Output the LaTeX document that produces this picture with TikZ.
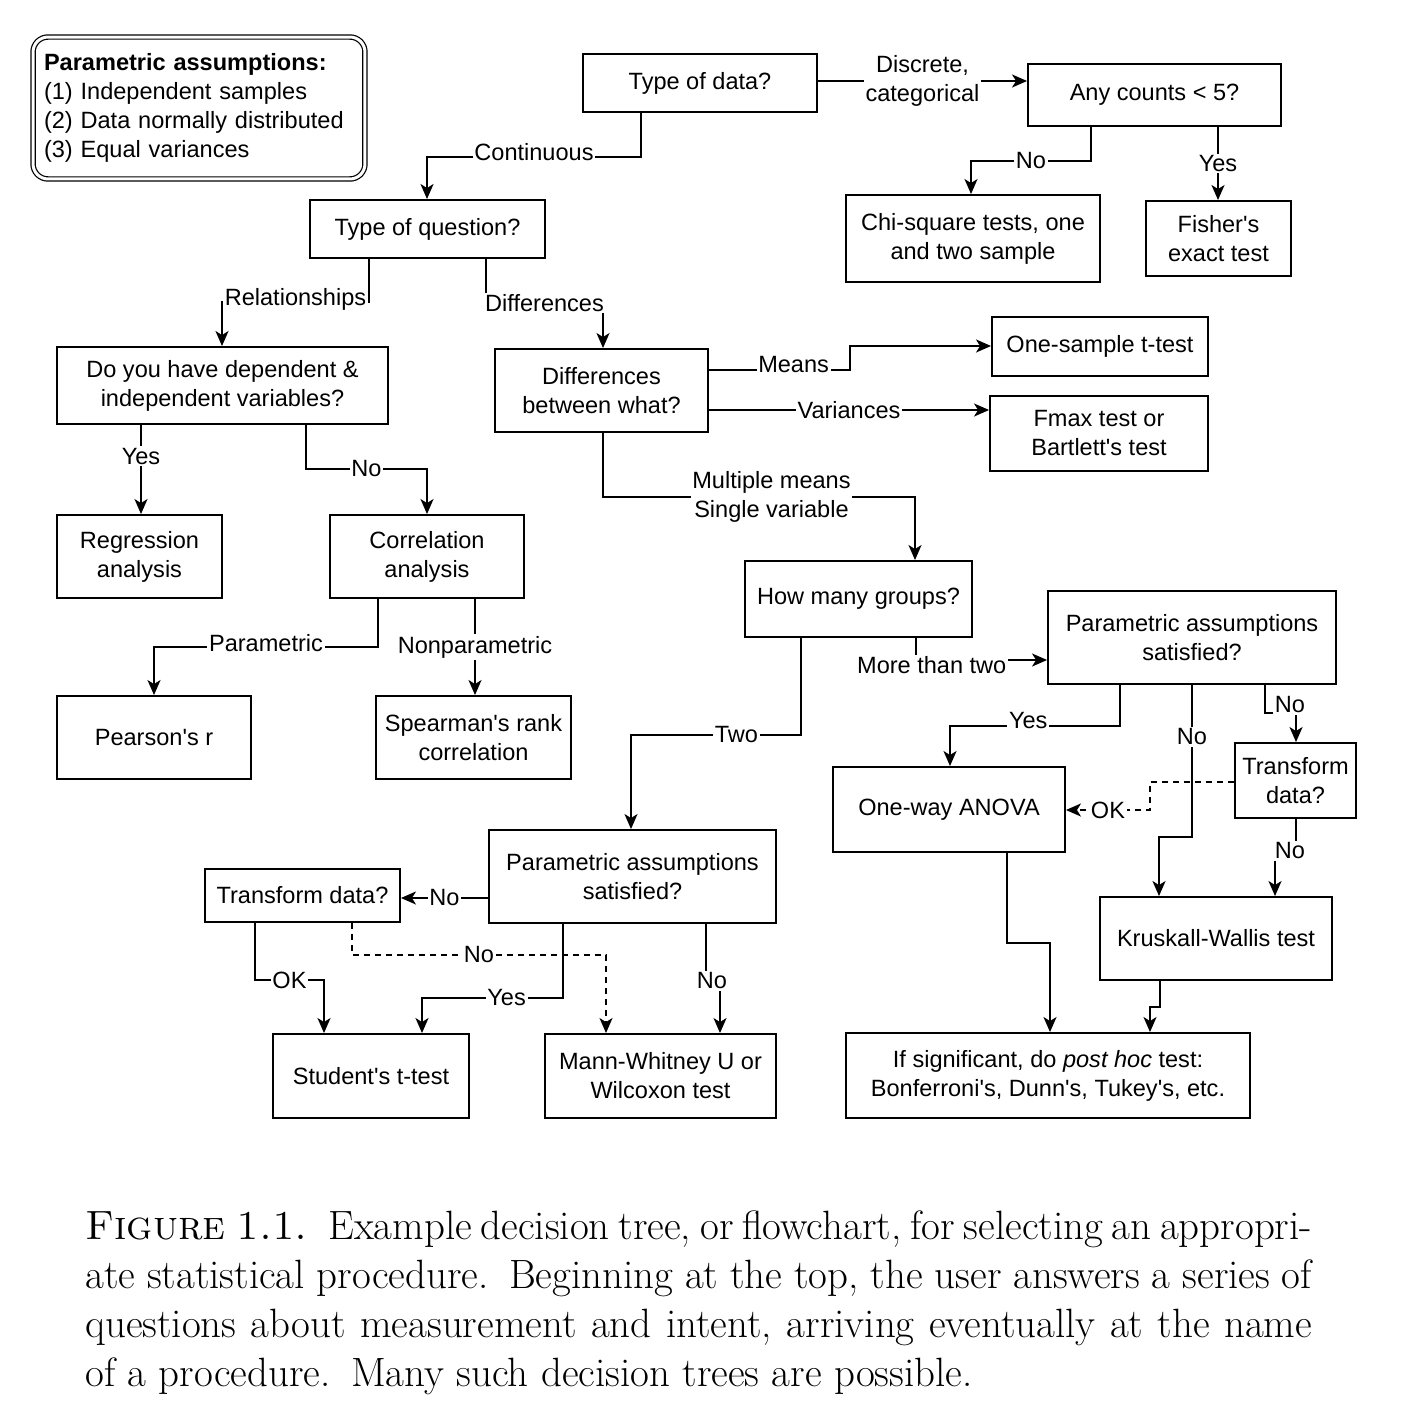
\documentclass[tikz,border=0pt]{standalone}
\usepackage{fontspec}
\setsansfont{Liberation Sans}[Ligatures=TeXOff]
\usetikzlibrary{arrows.meta}

\tikzset{
  box/.style={draw, line width=1.1pt, align=center, inner sep=2pt},
  legendbox/.style={draw, line width=0.7pt, double, double distance=0.06cm, rounded corners=0.3cm,
    minimum width=6.64cm, minimum height=2.84cm, text width=6.2cm, align=left},
  lbl/.style={fill=white, inner sep=1pt, align=center},
  arr/.style={line width=1.1pt, -{Stealth[length=0.3cm, width=0.26cm, inset=0.08cm]}},
  dasharr/.style={arr, dash pattern=on 0.12cm off 0.1cm},
}

\begin{document}
\begin{tikzpicture}[x=0.02cm, y=-0.02cm,
    every node/.style={font=\sffamily\fontsize{13.4}{16.5}\selectfont}]
    \useasboundingbox (0,0) rectangle (1400,1416);

    % legend
    \node[legendbox] (assume) at (199,108) {\textbf{Parametric assumptions:}\\(1) Independent samples\\(2) Data normally distributed\\(3) Equal variances};

    % boxes
    \node[box, minimum width=4.68cm, minimum height=1.16cm] (typedata) at (700,83) {Type of data?};
    \node[box, minimum width=5.06cm, minimum height=1.24cm] (counts) at (1154.5,95) {Any counts < 5?};
    \node[box, minimum width=5.08cm, minimum height=1.74cm] (chisq) at (973,238.5) {Chi-square tests, one\\and two sample};
    \node[box, minimum width=2.9cm, minimum height=1.5cm] (fisher) at (1218.5,238.5) {Fisher's\\exact test};
    \node[box, minimum width=4.7cm, minimum height=1.16cm] (typeq) at (427.5,229) {Type of question?};
    \node[box, minimum width=6.62cm, minimum height=1.54cm] (depind) at (222.5,385.5) {Do you have dependent \&\\independent variables?};
    \node[box, minimum width=4.26cm, minimum height=1.66cm] (diffwhat) at (601.5,390.5) {Differences\\between what?};
    \node[box, minimum width=4.32cm, minimum height=1.18cm] (onesample) at (1100,346.5) {One-sample t-test};
    \node[box, minimum width=4.36cm, minimum height=1.5cm] (fmax) at (1099,433.5) {Fmax test or\\Bartlett's test};
    \node[box, minimum width=3.3cm, minimum height=1.66cm] (regr) at (139.5,556.5) {Regression\\analysis};
    \node[box, minimum width=3.88cm, minimum height=1.66cm] (corr) at (427,556.5) {Correlation\\analysis};
    \node[box, minimum width=4.54cm, minimum height=1.52cm] (howmany) at (858.5,599) {How many groups?};
    \node[box, minimum width=5.76cm, minimum height=1.86cm] (paramR) at (1192,637.5) {Parametric assumptions\\satisfied?};
    \node[box, minimum width=3.88cm, minimum height=1.66cm] (pearson) at (154,737.5) {Pearson's r};
    \node[box, minimum width=3.9cm, minimum height=1.66cm] (spearman) at (473.5,737.5) {Spearman's rank\\correlation};
    \node[box, minimum width=4.64cm, minimum height=1.7cm] (anova) at (949,809.5) {One-way ANOVA};
    \node[box, minimum width=2.42cm, minimum height=1.5cm] (transR) at (1295.5,780.5) {Transform\\data?};
    \node[box, minimum width=5.74cm, minimum height=1.86cm] (paramL) at (632.5,876.5) {Parametric assumptions\\satisfied?};
    \node[box, minimum width=3.9cm, minimum height=1.06cm] (transL) at (302.5,895.5) {Transform data?};
    \node[box, minimum width=4.64cm, minimum height=1.66cm] (kw) at (1216,938.5) {Kruskall-Wallis test};
    \node[box, minimum width=3.92cm, minimum height=1.68cm] (student) at (371,1076) {Student's t-test};
    \node[box, minimum width=4.62cm, minimum height=1.68cm] (mann) at (660.5,1076) {Mann-Whitney U or\\Wilcoxon test};
    \node[box, minimum width=8.08cm, minimum height=1.7cm] (posthoc) at (1048,1075.5) {If significant, do \textit{post hoc} test:\\Bonferroni's, Dunn's, Tukey's, etc.};

    % connectors
    \draw[arr] (typedata.east |- 0,81) -- node[lbl]{Discrete,\\categorical} (counts.west |- 0,81);
    \draw[arr] (typedata.south -| 641,0) |- node[lbl,pos=0.75,yshift=0.1cm]{Continuous} (427,157) -- (typeq.north -| 427,0);
    \draw[arr] (counts.south -| 1091,0) |- node[lbl,pos=0.75]{No} (971,161) -- (chisq.north -| 971,0);
    \draw[arr] (counts.south -| 1218,0) -- node[lbl]{Yes} (fisher.north -| 1218,0);
    \draw[arr] (typeq.south -| 369,0) |- node[lbl,pos=0.75,yshift=0.05cm]{Relationships} (222,302) -- (depind.north -| 222,0);
    \draw[arr] (typeq.south -| 486,0) |- node[lbl,pos=0.75]{Differences} (603,303) -- (diffwhat.north -| 603,0);
    \draw[arr] (diffwhat.east |- 0,370) -| node[lbl,pos=0.3,yshift=0.1cm]{Means} (850,346) -- (onesample.west |- 0,346);
    \draw[arr] (diffwhat.east |- 0,410) -- node[lbl]{Variances} (fmax.west |- 0,410);
    \draw[arr] (diffwhat.south -| 603,0) |- node[lbl,pos=0.77]{Multiple means\\Single variable} (915,497) -- (howmany.north -| 915,0);
    \draw[arr] (depind.south -| 141,0) -- node[lbl,pos=0.35]{Yes} (regr.north -| 141,0);
    \draw[arr] (depind.south -| 306,0) |- node[lbl,pos=0.75]{No} (427,469) -- (corr.north);
    \draw[arr] (corr.south -| 378,0) |- node[lbl,pos=0.75,yshift=0.08cm]{Parametric} (154,647) -- (pearson.north);
    \draw[arr] (corr.south -| 475,0) -- node[lbl]{Nonparametric} (spearman.north -| 475,0);
    \draw[arr] (howmany.south -| 916,0) |- node[lbl,pos=0.56,yshift=-0.1cm]{More than two} (paramR.west |- 0,660);
    \draw[arr] (howmany.south -| 801,0) |- node[lbl,pos=0.69]{Two} (631,735) -- (paramL.north -| 631,0);
    \draw[arr] (paramR.south -| 1120,0) |- node[lbl,pos=0.77,yshift=0.1cm]{Yes} (950,726) -- (anova.north -| 950,0);
    \draw[arr] (paramR.south -| 1192,0) |- node[lbl,pos=0.17]{No} (1159,837) -- (kw.north -| 1159,0);
    \draw[arr] (paramR.south -| 1265,0) |- node[lbl,pos=0.9,yshift=0.16cm]{No} (1296,713) -- (transR.north -| 1296,0);
    \draw[dasharr] (transR.west |- 0,782) -| (1150,810) -- node[lbl]{OK} (anova.east |- 0,810);
    \draw[arr] (transR.south -| 1296,0) |- node[lbl,xshift=-0.12cm,yshift=-0.12cm]{No} (1275,845) -- (kw.north -| 1275,0);
    \draw[arr] (anova.south -| 1007,0) |- (1050,943) -- (posthoc.north -| 1050,0);
    \draw[arr] (kw.south -| 1160,0) |- (1150,1007) -- (posthoc.north -| 1150,0);
    \draw[arr] (paramL.west |- 0,898) -- node[lbl]{No} (transL.east |- 0,898);
    \draw[arr] (transL.south -| 255,0) |- node[lbl,pos=0.75]{OK} (324,980) -- (student.north -| 324,0);
    \draw[arr] (paramL.south -| 563,0) |- node[lbl,pos=0.7]{Yes} (422,998) -- (student.north -| 422,0);
    \draw[dasharr] (transL.south -| 352,0) |- node[lbl,pos=0.75]{No} (606,955) -- (mann.north -| 606,0);
    \draw[arr] (paramL.south -| 706,0) |- node[lbl,xshift=0.12cm]{No} (720,981) -- (mann.north -| 720,0);

    % caption
    \node[anchor=north west, inner sep=0, text width=24.54cm, align=justify,
      font=\rmfamily\fontsize{23.3}{27.9}\selectfont] (caption) at (85,1210)
      {\noindent\textsc{Figure 1.1.}\enspace Example decision tree, or flowchart, for selecting an appropri-\linebreak
       ate statistical procedure.\enspace Beginning at the top, the user answers a series of\linebreak
       questions about measurement and intent, arriving eventually at the name\linebreak
       of a procedure.\enspace Many such decision trees are possible.};
\end{tikzpicture}
\end{document}
